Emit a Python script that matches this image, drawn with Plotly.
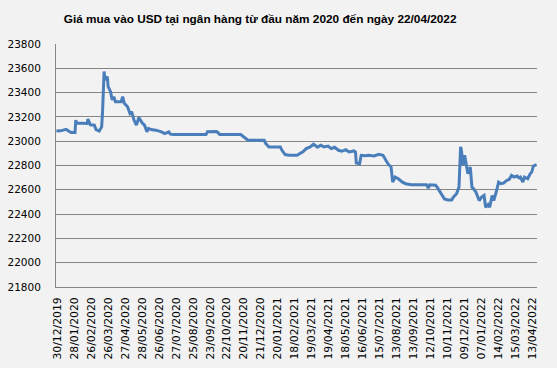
import plotly.graph_objects as go

title_text = "Giá mua vào USD tại ngân hàng từ đầu năm 2020 đến ngày 22/04/2022"

tick_labels = [
    "30/12/2019", "28/01/2020", "26/02/2020", "26/03/2020", "27/04/2020",
    "28/05/2020", "26/06/2020", "27/07/2020", "25/08/2020", "23/09/2020",
    "22/10/2020", "20/11/2020", "21/12/2020", "20/01/2021", "18/02/2021",
    "19/03/2021", "19/04/2021", "18/05/2021", "16/06/2021", "15/07/2021",
    "13/08/2021", "13/09/2021", "12/10/2021", "10/11/2021", "09/12/2021",
    "07/01/2022", "14/02/2022", "15/03/2022", "13/04/2022",
]
# trading-day index of each labelled date
tick_idx = [1, 22, 43, 64, 85, 106, 127, 148, 169, 190, 211, 232, 253, 274, 295,
            316, 337, 358, 379, 400, 421, 442, 463, 484, 505, 526, 547, 568, 589]

# trading-day index of each reading
day_idx = [
    0, 5, 12, 14, 18, 23, 24, 25, 32, 38,
    39, 42, 47, 49, 53, 56, 57, 59, 60, 63,
    64, 67, 69, 71, 73, 80, 82, 84, 88, 91,
    93, 96, 99, 102, 106, 109, 112, 114, 117, 123,
    130, 134, 139, 141, 145, 185, 187, 198, 200, 202,
    228, 231, 235, 237, 257, 259, 263, 277, 279, 283,
    288, 298, 301, 305, 309, 314, 318, 323, 327, 331,
    336, 340, 344, 349, 353, 358, 362, 368, 370, 371,
    375, 377, 382, 386, 393, 399, 404, 407, 410, 414,
    416, 419, 423, 428, 432, 439, 458, 460, 462, 469,
    471, 476, 480, 484, 489, 491, 495, 498, 500, 501,
    503, 505, 507, 509, 512, 514, 516, 519, 523, 526,
    529, 531, 534, 536, 539, 541, 544, 547, 550, 553,
    557, 560, 563, 566, 570, 572, 574, 577, 579, 583,
    586, 588, 590, 594,
]
# USD buying price (VND)
price = [
    23083, 23085, 23097, 23090, 23072, 23072, 23174, 23150, 23146, 23146,
    23182, 23135, 23132, 23095, 23083, 23118, 23229, 23574, 23505, 23532,
    23450, 23408, 23340, 23367, 23325, 23325, 23367, 23312, 23284, 23229,
    23243, 23174, 23132, 23195, 23151, 23132, 23077, 23105, 23096, 23091,
    23077, 23063, 23077, 23058, 23055, 23055, 23077, 23080, 23070, 23055,
    23055, 23041, 23022, 23008, 23008, 22981, 22953, 22953, 22925, 22890,
    22884, 22884, 22898, 22912, 22939, 22953, 22975, 22950, 22967, 22953,
    22960, 22939, 22950, 22925, 22917, 22930, 22912, 22920, 22910, 22820,
    22815, 22884, 22880, 22884, 22878, 22892, 22884, 22843, 22815, 22787,
    22663, 22705, 22691, 22663, 22650, 22641, 22641, 22615, 22641, 22638,
    22622, 22567, 22525, 22517, 22517, 22539, 22567, 22622, 22953, 22925,
    22801, 22884, 22815, 22732, 22787, 22622, 22608, 22580, 22512, 22539,
    22553, 22456, 22478, 22456, 22553, 22512, 22580, 22663, 22650, 22655,
    22677, 22685, 22718, 22705, 22713, 22699, 22705, 22663, 22705, 22691,
    22732, 22746, 22796, 22807,
]

y_ticks = [21800, 22000, 22200, 22400, 22600, 22800, 23000, 23200, 23400, 23600, 23800]

fig = go.Figure()
fig.add_trace(go.Scatter(
    x=day_idx, y=price, mode="lines",
    line=dict(color="#4a7ebb", width=3),
    showlegend=False,
))

grid_col = "#868686"
fig.update_layout(
    width=557, height=368,
    paper_bgcolor="#f2f2f2", plot_bgcolor="#f2f2f2",
    margin=dict(l=56, r=20, t=44, b=81, autoexpand=False),
    font=dict(family="DejaVu Sans", size=11, color="#000000"),
    title=dict(text=title_text, x=0.467, xanchor="center", xref="container",
               y=1 - 19 / 368, yanchor="middle", yref="container", automargin=False,
               font=dict(family="Liberation Sans", size=11.8, color="#000000", weight="bold")),
    xaxis=dict(range=[-0.5, 594.5], tickmode="array", tickvals=tick_idx, ticktext=tick_labels,
               tickangle=-90, showgrid=False, showline=True, linecolor=grid_col, linewidth=1,
               ticks="", ticklabelstandoff=5, zeroline=False, automargin=False,
               tickfont=dict(family="DejaVu Sans", size=10.8)),
    yaxis=dict(range=[21800, 23800], tickmode="array", tickvals=y_ticks,
               showgrid=True, gridcolor=grid_col, gridwidth=1,
               showline=True, linecolor=grid_col, linewidth=1, ticks="",
               ticklabelstandoff=12, zeroline=False, tickformat="d", automargin=False,
               tickfont=dict(family="DejaVu Sans", size=10.5)),
)

fig.write_html("out.html", config={"displayModeBar": False},
               post_script="document.body.style.margin='0';document.body.style.padding='0';")
